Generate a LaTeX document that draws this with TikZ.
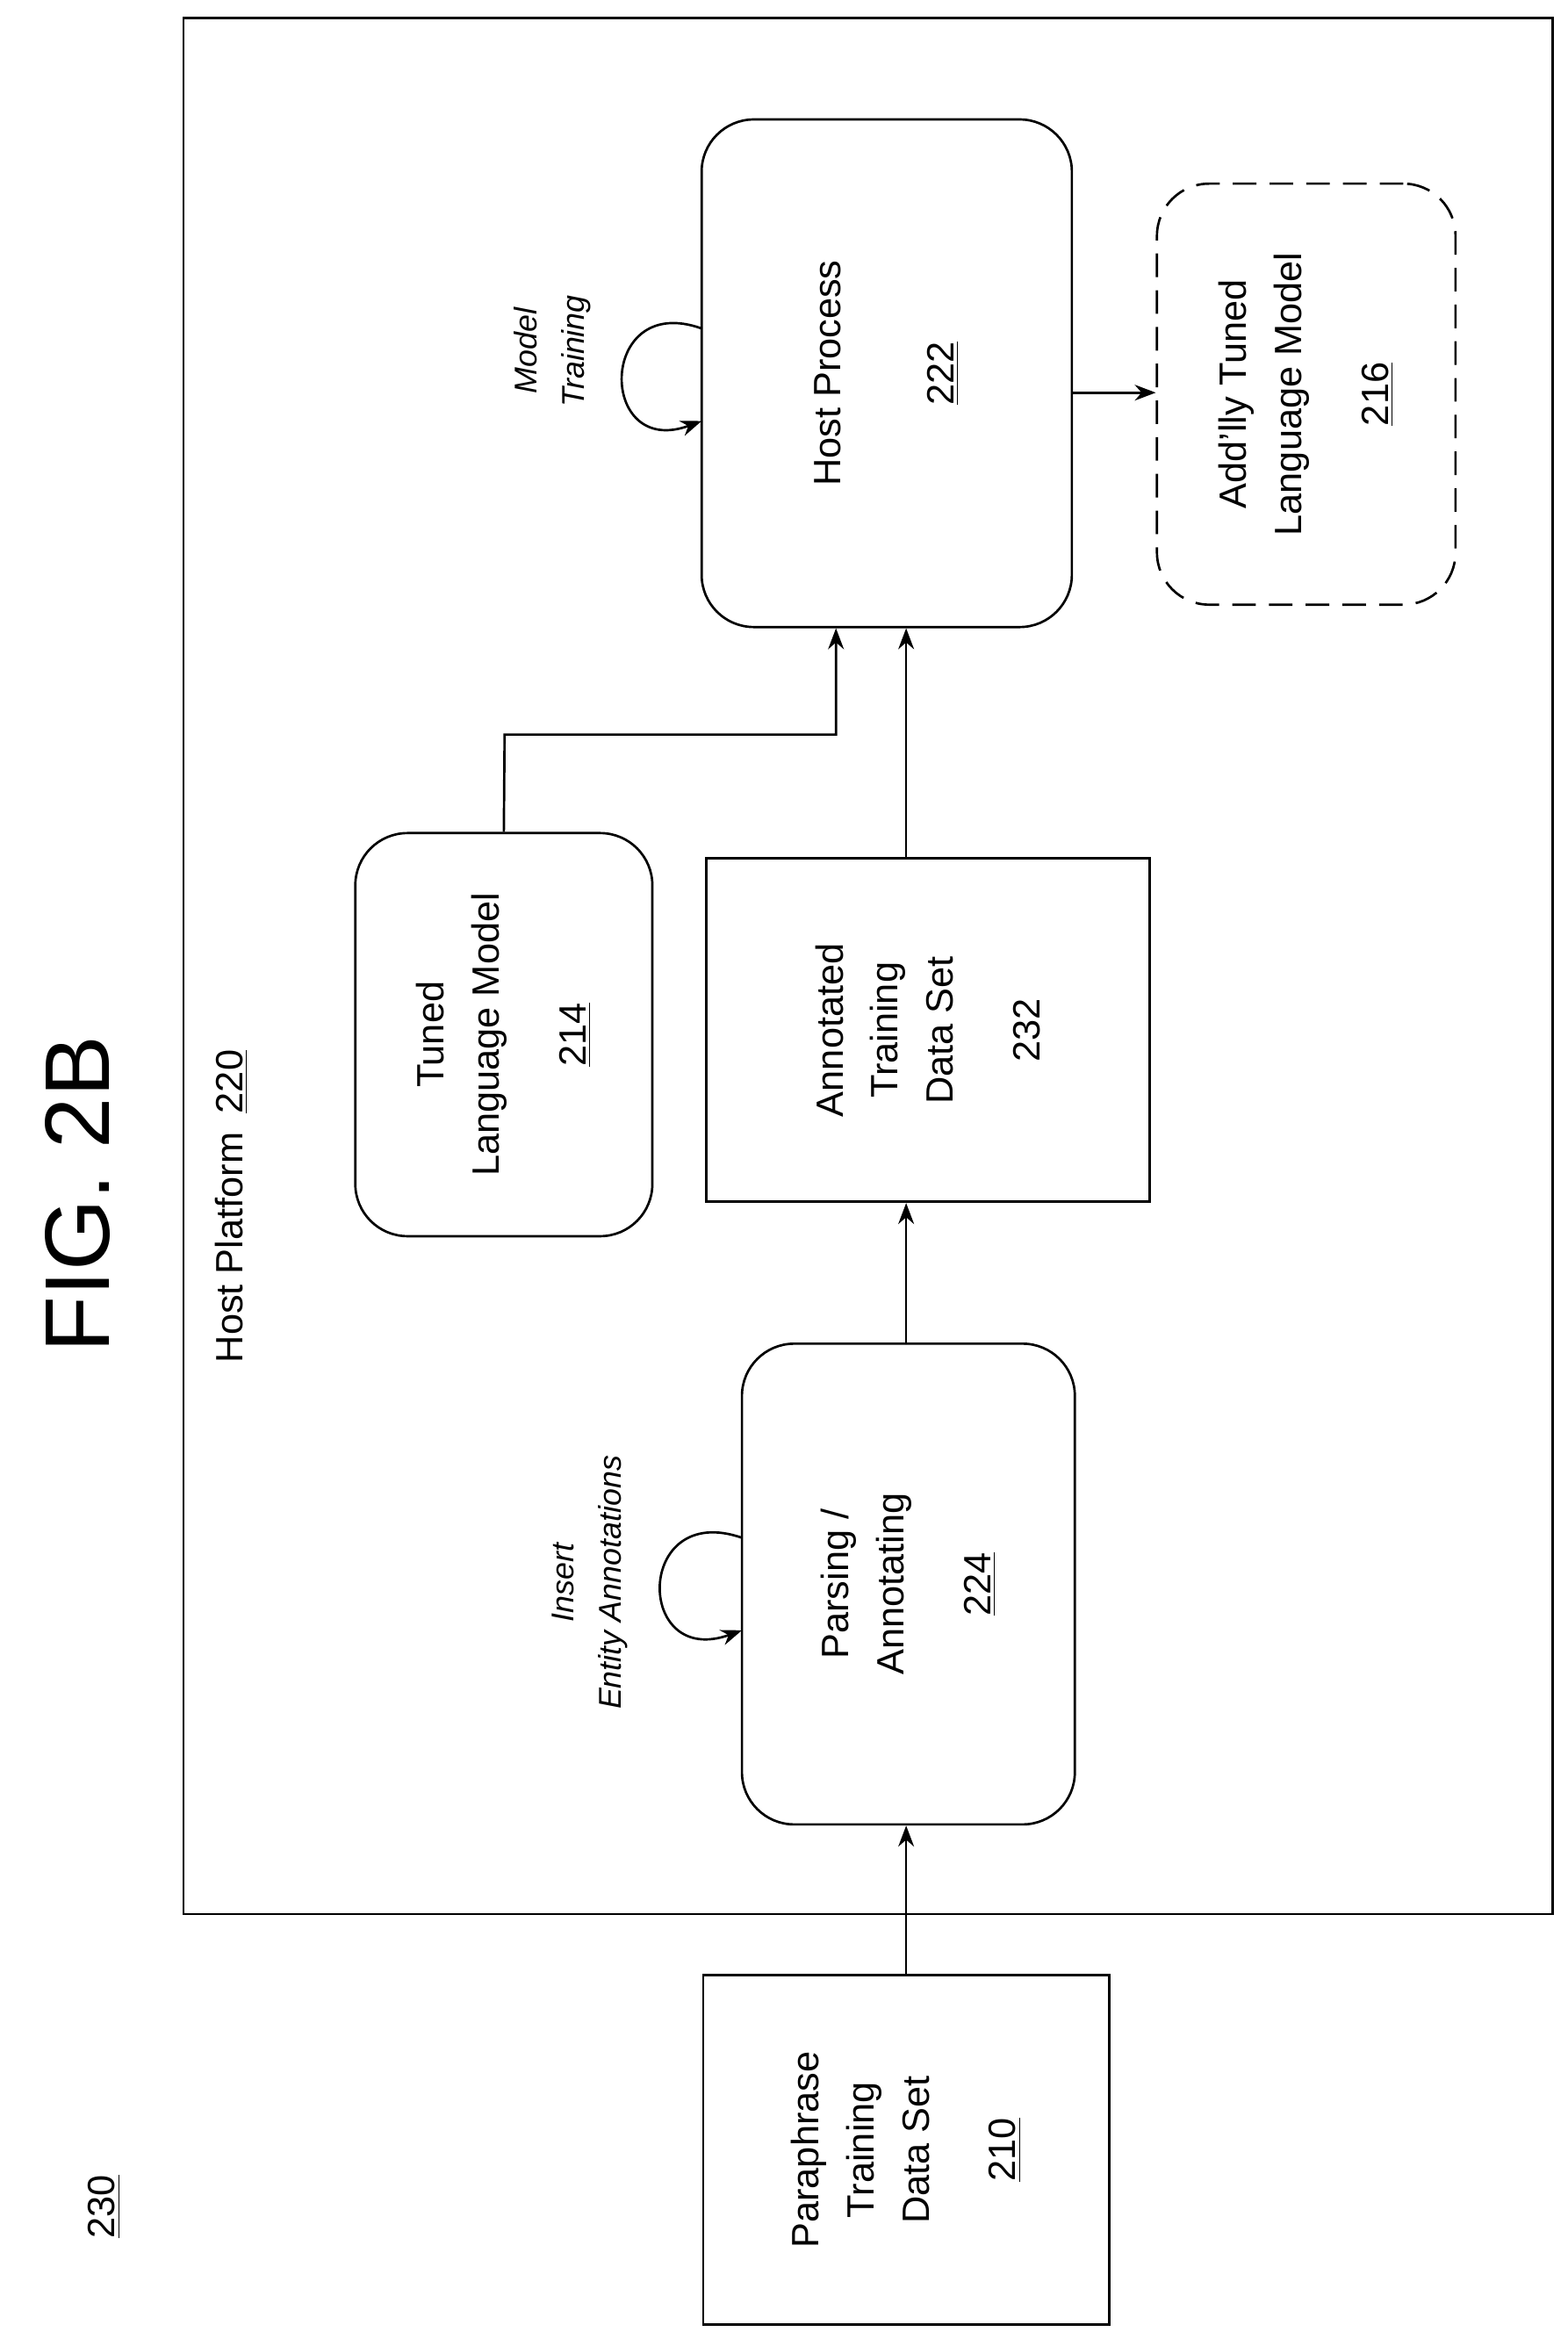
\documentclass[tikz,border=0pt]{standalone}
\usepackage{fontspec}
\setmainfont{Liberation Sans}
\usetikzlibrary{arrows.meta}
\begin{document}
\begin{tikzpicture}[x=0.02cm,y=-0.02cm,line width=0.9pt,
  rbox/.style={draw,rounded corners=0.7cm,inner sep=0pt},
  txt/.style={rotate=90,align=center,font=\fontsize{14.5}{21}\selectfont},
  arr/.style={-{Stealth[length=8pt,width=6pt]}}]
\useasboundingbox (0,0) rectangle (1050,1562);
% outer host platform
\node[draw,minimum width=917*0.02cm,minimum height=1270*0.02cm,inner sep=0pt] (host) at (581.5,647) {};
\node[txt,font=\fontsize{35}{40}\selectfont] (fig) at (52,800) {FIG. 2B};
\node[txt] (n230) at (70,1478) {\underline{230}};
\node[txt] (hp) at (155,808) {Host Platform\enspace\underline{220}};
% boxes
\node[draw,minimum width=272*0.02cm,minimum height=234*0.02cm,inner sep=0pt] (para) at (607,1440) {};
\node[txt] at (para) {Paraphrase\\Training\\Data Set\\[12pt]\underline{210}};
\node[rbox,minimum width=223*0.02cm,minimum height=322*0.02cm] (pars) at (608.5,1061) {};
\node[txt] at (pars) {Parsing /\\Annotating\\[12pt]\underline{224}};
\node[draw,minimum width=297*0.02cm,minimum height=230*0.02cm,inner sep=0pt] (ann) at (621.5,690) {};
\node[txt] at (ann) {Annotated\\Training\\Data Set\\[12pt]232};
\node[rbox,minimum width=199*0.02cm,minimum height=270*0.02cm] (tuned) at (337.5,693) {};
\node[txt] at (tuned) {Tuned\\Language Model\\[12pt]\underline{214}};
\node[rbox,minimum width=248*0.02cm,minimum height=340*0.02cm] (proc) at (594,250) {};
\node[txt] at (proc) {Host Process\\[22pt]\underline{222}};
\node[rbox,dashed,dash pattern=on 9pt off 5pt,minimum width=200*0.02cm,minimum height=282*0.02cm] (add) at (875,264) {};
\node[txt] at (add) {Add'lly Tuned\\Language Model\\[12pt]\underline{216}};
% connectors
\draw[arr] (para.north) -- (pars.south -| para.north);
\draw[arr] (pars.north -| para.north) -- (ann.south -| para.north);
\draw[arr] (ann.north -| para.north) -- (proc.south -| para.north);
\coordinate (t1) at (338,492);
\coordinate (t2) at (560,492);
\draw[arr] (tuned.north) -- (t1) -- (t2) -- (proc.south -| t2);
\draw[arr] (proc.east |- 0,263) -- (add.west |- 0,263);
% self loops
\coordinate (l1) at (497,1030); \coordinate (l2) at (497,1092);
\draw[arr] (l1) .. controls (425,1005) and (425,1118) .. (l2);
\node[txt,font=\fontsize{12}{18}\selectfont\itshape] (lab1) at (395,1060) {Insert\\Entity Annotations};
\coordinate (m1) at (470,220); \coordinate (m2) at (470,282);
\draw[arr] (m1) .. controls (400,195) and (400,308) .. (m2);
\node[txt,font=\fontsize{12}{18}\selectfont\itshape] (lab2) at (370,235) {Model\\Training};
\end{tikzpicture}
\end{document}
